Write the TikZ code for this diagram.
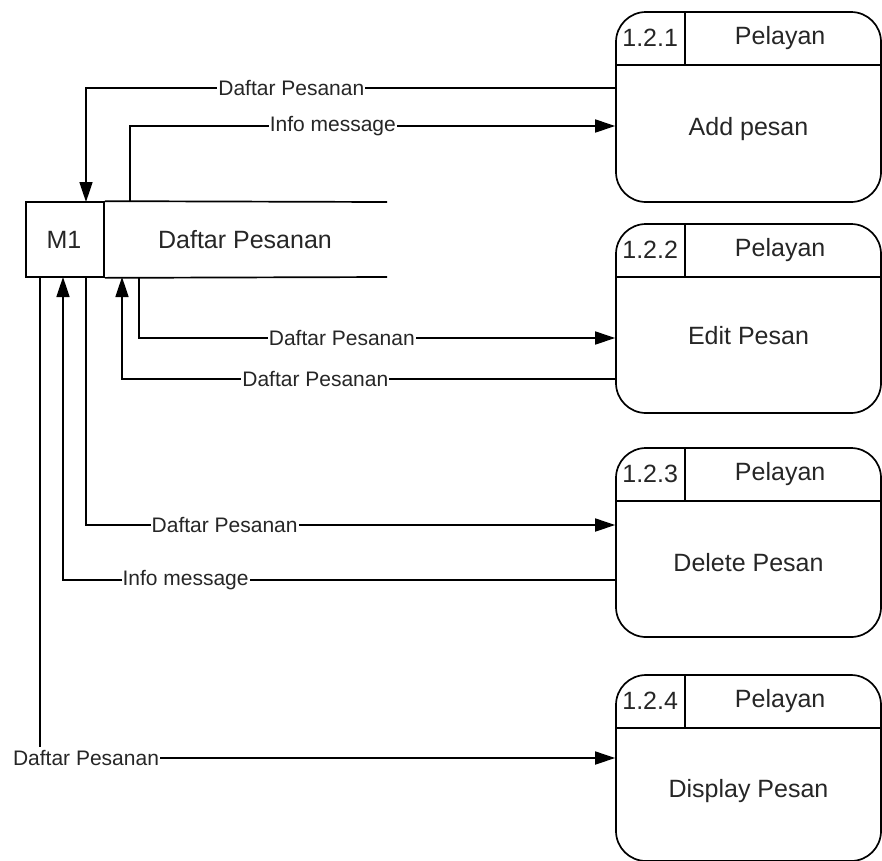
\documentclass[tikz,border=0pt]{standalone}
\usepackage{fontspec}
\setmainfont{Liberation Sans}
\usetikzlibrary{arrows.meta}
\begin{document}
\begin{tikzpicture}[x=1pt,y=-1pt,
  lw/.style={line width=1.7pt},
  proc/.style={lw, draw, rounded corners=30pt, minimum width=265pt, inner sep=0pt},
  store/.style={lw, draw, inner sep=0pt},
  maintxt/.style={font=\fontsize{25}{28}\selectfont, text=black!85, inner sep=0pt},
  flow/.style={lw, -{Triangle[length=20pt,width=13pt]}},
  lbl/.style={font=\fontsize{21}{24}\selectfont, text=black!85, fill=white, inner xsep=1pt, inner ysep=3pt}
]
\useasboundingbox (0,0) rectangle (882,860);

% processes
\node[proc, minimum height=190pt] (p1) at (748.5,107) {};
\node[proc, minimum height=189pt] (p2) at (748.5,318.5) {};
\node[proc, minimum height=189pt] (p3) at (748.5,542.5) {};
\node[proc, minimum height=186pt] (p4) at (748.5,768) {};

\foreach \p/\id/\body/\dy in {p1/1.2.1/Add pesan/-22, p2/1.2.2/Edit Pesan/-17, p3/1.2.3/Delete Pesan/-20, p4/1.2.4/Display Pesan/-23}{
  \draw[lw] ([yshift=-54pt]\p.north west) -- ([yshift=-54pt]\p.north east);
  \draw[lw] ([xshift=70pt]\p.north west) -- ([xshift=70pt,yshift=-54pt]\p.north west);
  \node[maintxt] (\p id) at ([xshift=35pt,yshift=-27pt]\p.north west) {\id};
  \node[maintxt] (\p who) at ([xshift=165pt,yshift=-27pt]\p.north west) {Pelayan};
  \node[maintxt] (\p body) at ([yshift=\dy pt]\p.center) {\body};
}

% data store
\node[store, minimum width=78pt, minimum height=75pt] (m1) at (65,239.5) {};
\node[maintxt] (m1txt) at (64,239.5) {M1};
\coordinate (dsTopEnd) at (387,202);
\coordinate (dsBotEnd) at (387,277);
\draw[lw] (m1.north east) -- (dsTopEnd);
\draw[lw] (m1.south east) -- (dsBotEnd);
\node[maintxt] (ds) at (245,239.5) {Daftar Pesanan};

% flows
\draw[flow] (p1.west |- 0,88) -| node[lbl, pos=0.306] (l1) {Daftar Pesanan} (86,202);
\draw[flow] (130,202) |- node[lbl, pos=0.709] (l2) {Info message} (p1.west |- 0,126);

\draw[flow] (139,277) |- node[lbl, pos=0.713] (l3) {Daftar Pesanan} (p2.west |- 0,338);
\draw[flow] (p2.west |- 0,379) -| node[lbl, pos=0.304] (l4) {Daftar Pesanan} (122,277);

\draw[flow] (86,277) |- node[lbl, pos=0.631] (l5) {Daftar Pesanan} (p3.west |- 0,525);
\draw[flow] (p3.west |- 0,580) -| node[lbl, pos=0.389] (l6) {Info message} (63,277);

\draw[flow] (40,277) |- node[lbl, pos=0.54] (l7) {Daftar Pesanan} (p4.west |- 0,758);
\end{tikzpicture}
\end{document}
